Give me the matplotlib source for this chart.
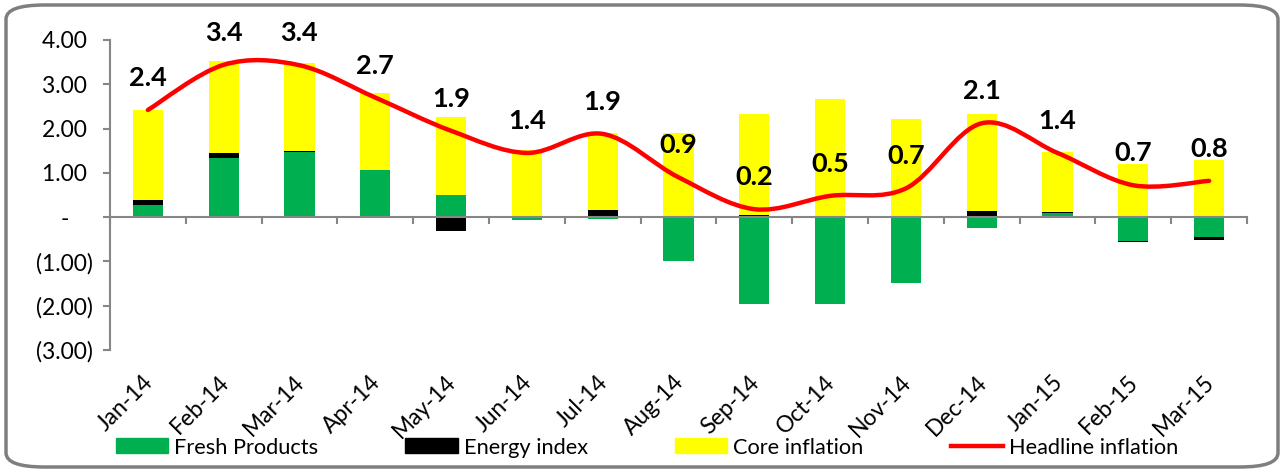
import numpy as np
import matplotlib
matplotlib.use("Agg")
import matplotlib.pyplot as plt
from matplotlib.path import Path
from matplotlib.patches import PathPatch, Patch, FancyBboxPatch
from matplotlib.lines import Line2D

plt.rcParams['font.family'] = ['Lato', 'DejaVu Sans']

# ---------------------------------------------------------------------
# Data
months = ["Jan-14", "Feb-14", "Mar-14", "Apr-14", "May-14", "Jun-14", "Jul-14",
          "Aug-14", "Sep-14", "Oct-14", "Nov-14", "Dec-14", "Jan-15", "Feb-15", "Mar-15"]
fresh = [0.27, 1.33, 1.46, 1.06, 0.50, -0.07, -0.05, -0.99, -1.96, -1.96, -1.48, -0.24, 0.10, -0.53, -0.44]
energy = [0.11, 0.11, 0.04, -0.02, -0.32, 0.00, 0.16, 0.03, 0.05, 0.03, 0.02, 0.14, 0.02, -0.02, -0.07]
core = [2.04, 2.08, 1.99, 1.74, 1.76, 1.51, 1.73, 1.86, 2.28, 2.63, 2.19, 2.19, 1.35, 1.21, 1.29]
headline = [2.42, 3.44, 3.43, 2.70, 1.95, 1.45, 1.88, 0.90, 0.18, 0.48, 0.65, 2.12, 1.45, 0.72, 0.82]
yticks = [4, 3, 2, 1, 0, -1, -2, -3]
ytick_labels = ["4.00 ", "3.00 ", "2.00 ", "1.00 ", "-    ", "(1.00)", "(2.00)", "(3.00)"]

GREEN, YELLOW, RED, GREY = "#00B050", "#FFFF00", "#FF0000", "#868686"

fig = plt.figure(figsize=(12.84, 4.72), dpi=100)
ax = fig.add_axes([110 / 1284, 1 - 350 / 472, 1137 / 1284, 310 / 472])

x = np.arange(len(months))
w = 0.40

# Excel-style stacking: positives stack upwards, negatives downwards
pos_base = np.zeros(len(x))
neg_base = np.zeros(len(x))
for vals, col in [(fresh, GREEN), (energy, "black"), (core, YELLOW)]:
    vals = np.array(vals)
    base = np.where(vals >= 0, pos_base, neg_base)
    ax.bar(x, vals, w, bottom=base, color=col, zorder=2)
    pos_base += np.clip(vals, 0, None)
    neg_base += np.clip(vals, None, 0)

# Smoothed headline line (Catmull-Rom bezier like Excel's smoothing)
y = np.array(headline)
xp = np.concatenate([[x[0]], x, [x[-1]]])
yp = np.concatenate([[y[0]], y, [y[-1]]])
verts = [(x[0], y[0])]
codes = [Path.MOVETO]
for i in range(1, len(xp) - 2):
    c1 = (xp[i] + (xp[i + 1] - xp[i - 1]) / 6, yp[i] + (yp[i + 1] - yp[i - 1]) / 6)
    c2 = (xp[i + 1] - (xp[i + 2] - xp[i]) / 6, yp[i + 1] - (yp[i + 2] - yp[i]) / 6)
    verts += [c1, c2, (xp[i + 1], yp[i + 1])]
    codes += [Path.CURVE4] * 3
ax.add_patch(PathPatch(Path(verts, codes), facecolor="none", edgecolor=RED,
                       lw=3.2, capstyle="round", zorder=3))

for xi, yi in zip(x, headline):
    ax.annotate(f"{yi:.1f}", (xi, yi), xytext=(0, 23), textcoords="offset points",
                ha="center", va="center", fontsize=19.5, fontweight="bold", zorder=4)

# Axes styling
ax.set_xlim(-0.5, len(x) - 0.5)
ax.set_ylim(-3, 4)
for s in ["top", "right"]:
    ax.spines[s].set_visible(False)
ax.spines["left"].set_color(GREY)
ax.spines["left"].set_linewidth(1.5)
ax.spines["bottom"].set_position(("data", 0))
ax.spines["bottom"].set_color(GREY)
ax.spines["bottom"].set_linewidth(1.5)
ax.set_yticks(yticks)
ax.set_yticklabels(ytick_labels, fontsize=16.5)
ax.tick_params(axis="y", direction="out", length=5, color=GREY, width=1.5, pad=7.5)
ax.set_xticks(np.arange(-0.5, len(x) + 0.5, 1))
ax.set_xticklabels([])
ax.tick_params(axis="x", direction="out", length=5, color=GREY, width=1.5)

for xi, lab in zip(x, months):
    ax.annotate(lab, (xi, -3), xytext=(-4, -15.5), textcoords="offset points",
                ha="right", va="top", rotation=45, rotation_mode="anchor",
                fontsize=16.5, annotation_clip=False)

handles = [Patch(color=GREEN), Patch(color="black"), Patch(color=YELLOW),
           Line2D([], [], color=RED, lw=3.2)]
labels = ["Fresh Products", "Energy index", "Core inflation", "Headline inflation"]
fig.legend(handles, labels, loc="center", bbox_to_anchor=(647 / 1284, 1 - 447.5 / 472),
           ncol=4, frameon=False, fontsize=15.7, handlelength=2.4, handleheight=0.69,
           handletextpad=0.27, columnspacing=4.0, borderpad=0)

# rounded chart border
fig.patches.append(FancyBboxPatch((6 / 1284, 5 / 472), 1272 / 1284, 462 / 472,
                                  boxstyle="round,pad=0,rounding_size=0.03",
                                  transform=fig.transFigure, facecolor="none",
                                  edgecolor="#7F7F7F", lw=2.5, zorder=0))

fig.savefig("out.png", dpi=100)
